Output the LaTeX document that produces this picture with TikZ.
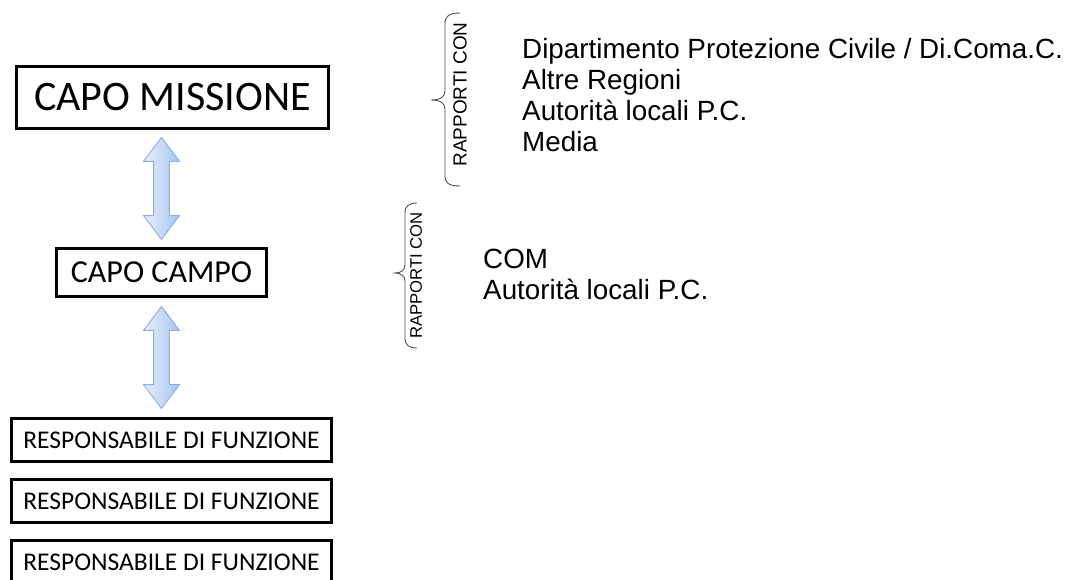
\documentclass[tikz,border=0pt]{standalone}
\usepackage{fontspec}
\setmainfont{Carlito}
\newfontfamily\arialfont{Liberation Sans}
\usetikzlibrary{shapes.arrows,calc}

\definecolor{arrowline}{HTML}{8AAEE0}
\definecolor{arrowlight}{HTML}{E6EFFB}
\definecolor{arrowdark}{HTML}{A6C4EE}
\definecolor{braceline}{HTML}{505050}

\begin{document}
\begin{tikzpicture}
[x=1pt,y=-1pt,%
  every node/.style={inner sep=0pt},%
  box/.style={draw,line width=3pt,minimum width=#1},%
  updown/.style={shape=double arrow,shape border rotate=90,draw=arrowline,line width=0.9pt,%
    left color=arrowlight,right color=arrowdark,minimum height=102pt,minimum width=35pt,%
    double arrow head extend=10pt,double arrow tip angle=74,inner xsep=7.5pt,inner ysep=7.5pt},%
  item/.style={anchor=base west,font=\arialfont\fontsize{27.8}{32}\selectfont},%
  rapporti/.style={rotate=90,font=\arialfont\fontsize{#1}{#1}\selectfont},%
  brace/.style={draw=braceline,line width=0.9pt}]
\useasboundingbox (0,0) rectangle (1078,579);
\clip (0,0) rectangle (1078,579);

% left column
\node[box=312pt,minimum height=62pt,font=\fontsize{42}{42}\selectfont] (missione) at (172.5,97.5) {CAPO MISSIONE};
\node[box=210pt,minimum height=48pt,font=\fontsize{32}{32}\selectfont] (campo) at (161.5,272.5) {CAPO CAMPO};
\foreach \i in {1,2,3}
  \node[box=320pt,minimum height=43pt,font=\fontsize{25.5}{25.5}\selectfont] (resp\i) at (171.5,{379+61*\i}) {RESPONSABILE DI FUNZIONE};

% arrows
\node[updown] (freccia1) at ($(campo.north)!0.5!(campo.north|-missione.south)$) {};
\node[updown] (freccia2) at ($(campo.south)!0.5!(campo.south|-resp1.north)$) {};

% rapporti capo missione
\draw[brace] (460,13) .. controls (449,13) and (445,16) .. (445,24) -- (445,91)
  .. controls (445,97) and (440,100) .. (431,100) .. controls (440,100) and (445,103) .. (445,109)
  -- (445,176) .. controls (445,183) and (449,186) .. (460,186);
\node[rapporti=19] (rc1) at (460,94.5) {RAPPORTI CON};
\node[item] (dpc) at (522,58) {Dipartimento Protezione Civile / Di.Coma.C.};
\node[item] (regioni) at (522,89) {Altre Regioni};
\node[item] (autorita1) at (522,120) {Autorità locali P.C.};
\node[item] (media) at (522,151) {Media};

% rapporti capo campo
\draw[brace] (417,203) .. controls (409,203) and (405,206) .. (405,213) -- (405,265)
  .. controls (405,270) and (401,273) .. (395,273) .. controls (401,273) and (405,276) .. (405,281)
  -- (405,338) .. controls (405,345) and (409,348) .. (417,348);
\node[rapporti=16.7] (rc2) at (416,275.5) {RAPPORTI CON};
\node[item] (com) at (483,268) {COM};
\node[item] (autorita2) at (483,299) {Autorità locali P.C.};
\end{tikzpicture}
\end{document}
